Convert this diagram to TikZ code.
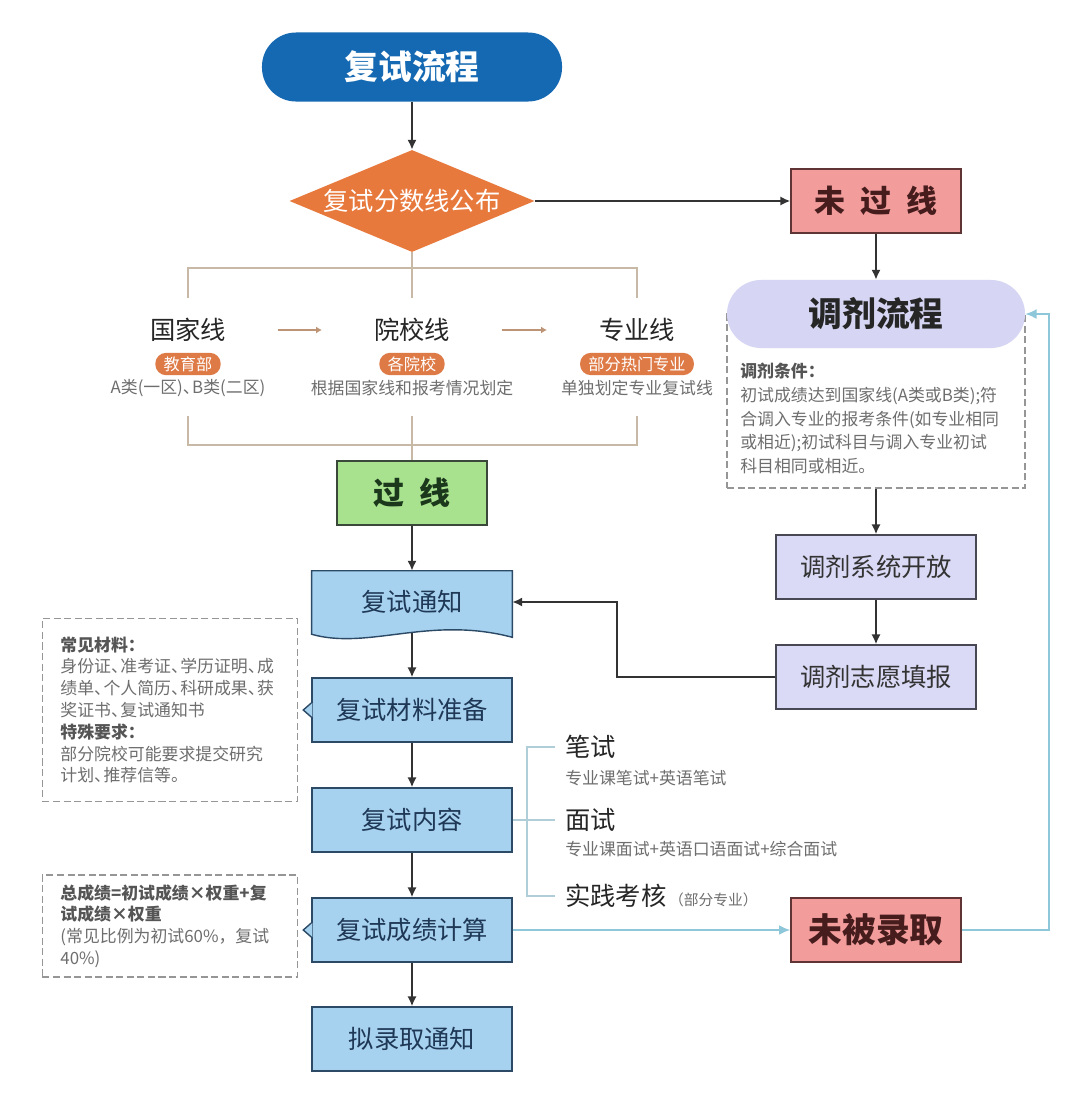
\documentclass[tikz,border=0pt]{standalone}
\usepackage{fontspec}
\setmainfont{Noto Sans CJK SC}
\usetikzlibrary{shapes, shapes.geometric, calc, arrows.meta, backgrounds}

\definecolor{titleblue}{RGB}{21,105,178}
\definecolor{diaorange}{RGB}{232,121,60}
\definecolor{tagorange}{RGB}{222,122,70}
\definecolor{failpink}{RGB}{242,156,156}
\definecolor{failedge}{RGB}{96,52,52}
\definecolor{failtext}{RGB}{70,28,28}
\definecolor{lavpill}{RGB}{214,214,244}
\definecolor{lavbox}{RGB}{218,218,246}
\definecolor{lavedge}{RGB}{72,72,84}
\definecolor{passgreen}{RGB}{168,226,142}
\definecolor{passedge}{RGB}{58,72,58}
\definecolor{passtext}{RGB}{28,56,28}
\definecolor{stepblue}{RGB}{166,210,240}
\definecolor{stepedge}{RGB}{44,74,102}
\definecolor{steptext}{RGB}{30,56,86}
\definecolor{tanline}{RGB}{200,184,166}
\definecolor{tanarrow}{RGB}{190,148,118}
\definecolor{linkblue}{RGB}{142,198,218}
\definecolor{bracketblue}{RGB}{176,206,216}
\definecolor{notegray}{RGB}{110,110,110}
\definecolor{notehead}{RGB}{85,85,85}
\definecolor{dashgray}{RGB}{150,150,150}
\definecolor{arrowgray}{RGB}{51,51,51}

\newcommand{\dunhao}{、\kern-0.45em}

\begin{document}
\begin{tikzpicture}[x=0.025cm, y=-0.025cm]
		\tikzstyle{every node}=[inner sep=0pt]
		\tikzstyle{pill}=[rectangle, rounded corners=0.85cm, minimum width=7.5cm, minimum height=1.725cm]
		\tikzstyle{stepbox}=[rectangle, draw=stepedge, line width=1pt, fill=stepblue, text=steptext, minimum width=5cm, minimum height=1.6cm, font=\fontsize{18pt}{20pt}\selectfont]
		\tikzstyle{failbox}=[rectangle, draw=failedge, line width=1pt, fill=failpink, text=failtext, minimum width=4.25cm, minimum height=1.6cm, font=\fontsize{22pt}{24pt}\selectfont\bfseries]
		\tikzstyle{passbox}=[failbox, draw=passedge, fill=passgreen, text=passtext, minimum width=3.75cm]
		\tikzstyle{adjbox}=[stepbox, draw=lavedge, fill=lavbox, text=black!80]
		\tikzstyle{linehead}=[text=black!85, font=\fontsize{18pt}{20pt}\selectfont]
		\tikzstyle{tagbox}=[rectangle, rounded corners=0.27cm, fill=tagorange, text=white, inner xsep=6pt, inner ysep=2.6pt, font=\fontsize{11.5pt}{12pt}\selectfont]
		\tikzstyle{subtext}=[text=notegray, font=\fontsize{12pt}{14pt}\selectfont]
		\tikzstyle{dashbox}=[rectangle, draw=dashgray, dash pattern=on 5pt off 2.5pt, line width=0.8pt]
		\tikzstyle{notebox}=[dashbox, align=left, text=notegray, inner xsep=0.45cm, text width=5.475cm, minimum width=6.375cm, font=\fontsize{12pt}{15.5pt}\selectfont]
		\tikzstyle{arr}=[draw=arrowgray, line width=1.3pt, -{Latex[length=7pt, width=6.5pt]}]
		\tikzstyle{linkarr}=[draw=linkblue, line width=1.3pt, -{Latex[length=8pt, width=7pt]}]
		\tikzstyle{tanlink}=[draw=tanline, line width=1pt]
		\tikzstyle{tanarr}=[draw=tanarrow, line width=2pt, -{Latex[length=4pt, width=5pt]}, shorten <=37pt, shorten >=37pt]
		\tikzstyle{brline}=[draw=bracketblue, line width=1pt]

		\useasboundingbox (0,0) rectangle (1080,1119);

		% main column
		\node[pill, fill=titleblue, text=white, font=\fontsize{24pt}{26pt}\selectfont\bfseries] (fslc) at (412,67) {复试流程};
		\node[diamond, aspect=2.4, fill=diaorange, text=white, minimum width=6.125cm, minimum height=2.55cm, font=\fontsize{18pt}{20pt}\selectfont] (fsx) at (412,201) {复试分数线公布};

		\node[linehead] (gjx) at (188,330) {国家线};
		\node[linehead] (yxx) at (412,330) {院校线};
		\node[linehead] (zyx) at (637,330) {专业线};
		\node[tagbox] (tagA) at (188,364) {教育部};
		\node[tagbox] (tagB) at (412,364) {各院校};
		\node[tagbox] (tagC) at (637,364) {部分热门专业};
		\node[subtext] (subA) at (188,388) {A类(一区)\dunhao B类(二区)};
		\node[subtext] (subB) at (412,388) {根据国家线和报考情况划定};
		\node[subtext] (subC) at (637,388) {单独划定专业复试线};

		\node[passbox] (gx) at (412,493) {过\hspace{0.5em}线};
		\node[minimum width=5cm, minimum height=1.55cm, text=steptext, font=\fontsize{18pt}{20pt}\selectfont] (fstz) at (412,602) {复试通知};
		\node[stepbox] (clzb) at (412,710) {复试材料准备};
		\node[stepbox] (fsnr) at (412,820) {复试内容};
		\node[stepbox] (fscj) at (412,930) {复试成绩计算};
		\node[stepbox] (nlq) at (412,1039) {拟录取通知};

		% notes on the left
		\node[notebox, minimum height=4.575cm] (note1) at (170,710) {
			{\bfseries\color{notehead}常见材料：}\\
			身份证\dunhao 准考证\dunhao 学历证明\dunhao 成\\
			绩单\dunhao 个人简历\dunhao 科研成果\dunhao 获\\
			奖证书\dunhao 复试通知书\\
			{\bfseries\color{notehead}特殊要求：}\\
			部分院校可能要求提交研究\\
			计划\dunhao 推荐信等。
		};
		\node[notebox, minimum height=2.55cm] (note2) at (170,926) {
			{\bfseries\color{notehead}总成绩=初试成绩×权重+复}\\
			{\bfseries\color{notehead}试成绩×权重}\\
			(常见比例为初试60\%，复试\\
			40\%)
		};

		% exam parts
		\node[anchor=west, linehead] (bishi) at (565,747) {笔试};
		\node[anchor=west, subtext] (bishisub) at (565,778) {专业课笔试+英语笔试};
		\node[anchor=west, linehead] (mianshi) at (565,820) {面试};
		\node[anchor=west, subtext] (mianshisub) at (565,849) {专业课面试+英语口语面试+综合面试};
		\node[anchor=west, linehead] (sjkh) at (565,896) {实践考核};
		\node[anchor=base west, subtext, font=\fontsize{10.5pt}{12pt}\selectfont] (sjkhsub) at ($(sjkh.base east)+(2,0)$) {（部分专业）};

		% right column
		\node[failbox] (wgx) at (876,201) {未\hspace{0.5em}过\hspace{0.5em}线};
		\node[dashbox, minimum width=7.45cm, minimum height=4.35cm] (tjbox) at (876,401) {};
		\node[pill, fill=lavpill, text=black!85, minimum width=7.45cm, minimum height=1.7cm, font=\fontsize{24pt}{26pt}\selectfont\bfseries] (tjlc) at (876,314) {调剂流程};
		\node[anchor=north west, align=left, text=notegray, font=\fontsize{12pt}{16.8pt}\selectfont] (tjtext) at (740,363) {
			{\bfseries\color{notehead}调剂条件：}\\
			初试成绩达到国家线(A类或B类);符\\
			合调入专业的报考条件(如专业相同\\
			或相近);初试科目与调入专业初试\\
			科目相同或相近。
		};
		\node[adjbox] (tjxt) at (876,567) {调剂系统开放};
		\node[adjbox] (tjzy) at (876,677) {调剂志愿填报};
		\node[failbox, font=\fontsize{24pt}{26pt}\selectfont\bfseries] (wbl) at (876,930) {未被录取};

		% document shape behind its text
		\begin{scope}[on background layer]
			\fill[white] (0,0) rectangle (1080,1119);
			\filldraw[fill=stepblue, draw=stepedge, line width=1pt] (fstz.north west) -- (fstz.north east)
				-- ($(fstz.south east)+(0,4)$) .. controls ($(fstz.south east)+(-83,-18)$) and ($(fstz.south west)+(57,17)$) .. ($(fstz.south west)+(0,1)$) -- cycle;
		\end{scope}

		% pointers towards the notes
		\foreach \n in {clzb, fscj} {
			\fill[stepblue] ($(\n.west)+(1,-7)$) -- ($(\n.west)+(-8,0)$) -- ($(\n.west)+(1,7)$) -- cycle;
			\draw[stepedge, line width=1pt] ($(\n.west)+(0,-7)$) -- ($(\n.west)+(-8,0)$) -- ($(\n.west)+(0,7)$);
		}

		% score lines
		\coordinate (topbar) at (412,268);
		\coordinate (gjtop) at (188,298);
		\coordinate (yxtop) at (412,298);
		\coordinate (zytop) at (637,298);
		\coordinate (botbar) at (412,445);
		\coordinate (gjbot) at (188,416);
		\coordinate (yxbot) at (412,416);
		\coordinate (zybot) at (637,416);
		\draw[tanlink] (fsx.south) -- (topbar);
		\draw[tanlink] (gjtop) |- (topbar) -| (zytop);
		\draw[tanlink] (yxtop) -- (topbar);
		\draw[tanlink] (gjbot) |- (botbar) -| (zybot);
		\draw[tanlink] (yxbot) -- (gx);
		\draw[tanarr] (gjx) -- (yxx);
		\draw[tanarr] (yxx) -- (zyx);

		% exam bracket
		\draw[brline] ($(bishi.west)+(-10,0)$) -- ++(-28,0) |- ($(sjkh.west)+(-10,0)$);
		\draw[brline] (fsnr.east) -- ($(mianshi.west)+(-10,0)$);

		% arrows
		\draw[arr] (fslc) -- (fsx);
		\draw[arr] (fsx) -- (wgx);
		\draw[arr] (wgx) -- (tjlc);
		\draw[arr] (tjbox) -- (tjxt);
		\draw[arr] (tjxt) -- (tjzy);
		\draw[arr] (tjzy.west) -- ++(-158,0) |- (fstz.east);
		\draw[arr] (gx) -- (fstz);
		\draw[arr] (fstz) -- (clzb);
		\draw[arr] (clzb) -- (fsnr);
		\draw[arr] (fsnr) -- (fscj);
		\draw[arr] (fscj) -- (nlq);
		\draw[linkarr] (fscj) -- (wbl);
		\draw[linkarr] (wbl.east) -- ++(87,0) |- (tjlc.east);

	\end{tikzpicture}
\end{document}
